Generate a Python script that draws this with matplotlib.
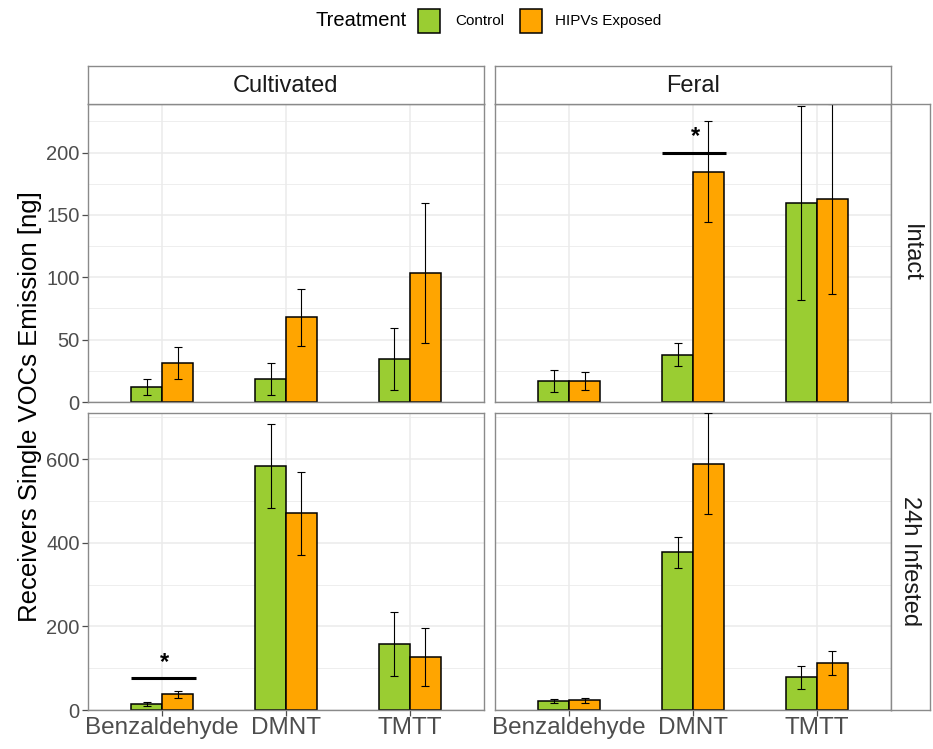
import matplotlib
matplotlib.use("Agg")
import matplotlib.pyplot as plt
import numpy as np
from matplotlib.patches import Rectangle

plt.rcParams['font.family'] = ['Liberation Sans', 'DejaVu Sans']

compounds = ["Benzaldehyde", "DMNT", "TMTT"]
origins = ["Cultivated", "Feral"]
conditions = ["Intact", "24h Infested"]
treatments = ["Control", "HIPVs Exposed"]
colors = ["#9ACD32", "#FFA500"]

# Intact
intact_cult_control_mean = [12.0, 18.5, 34.5]
intact_cult_control_se = [6.4, 12.8, 24.5]
intact_cult_hipv_mean = [31.5, 68.0, 103.3]
intact_cult_hipv_se = [12.7, 23.0, 56.0]
intact_feral_control_mean = [17.0, 38.0, 159.5]
intact_feral_control_se = [8.7, 9.1, 78.0]
intact_feral_hipv_mean = [17.0, 184.8, 163.0]
intact_feral_hipv_se = [7.0, 40.5, 76.0]
# 24h Infested
inf_cult_control_mean = [15.0, 583.0, 157.7]
inf_cult_control_se = [4.8, 101.0, 76.0]
inf_cult_hipv_mean = [38.0, 470.0, 126.6]
inf_cult_hipv_se = [8.3, 99.0, 69.0]
inf_feral_control_mean = [21.5, 377.0, 78.0]
inf_feral_control_se = [4.4, 37.0, 28.0]
inf_feral_hipv_mean = [23.0, 589.0, 112.5]
inf_feral_hipv_se = [6.0, 121.0, 29.5]

data = {
    ("Intact", "Cultivated"): [(intact_cult_control_mean, intact_cult_control_se),
                               (intact_cult_hipv_mean, intact_cult_hipv_se)],
    ("Intact", "Feral"): [(intact_feral_control_mean, intact_feral_control_se),
                          (intact_feral_hipv_mean, intact_feral_hipv_se)],
    ("24h Infested", "Cultivated"): [(inf_cult_control_mean, inf_cult_control_se),
                                     (inf_cult_hipv_mean, inf_cult_hipv_se)],
    ("24h Infested", "Feral"): [(inf_feral_control_mean, inf_feral_control_se),
                                (inf_feral_hipv_mean, inf_feral_hipv_se)],
}

row_ticks = {"Intact": [0, 50, 100, 150, 200], "24h Infested": [0, 200, 400, 600]}
row_minor = {"Intact": [25, 75, 125, 175, 225], "24h Infested": [100, 300, 500, 700]}

# significance markers: (condition, origin, compound, y)
sig_condition = ["Intact", "24h Infested"]
sig_origin = ["Feral", "Cultivated"]
sig_compound = ["DMNT", "Benzaldehyde"]
sig_y = [200, 77]

W, H = 933, 749
fig = plt.figure(figsize=(W / 100, H / 100), dpi=100)

def rect(x0, y0, x1, y1):
    return [x0 / W, 1 - y1 / H, (x1 - x0) / W, (y1 - y0) / H]

col_x = [(88, 484), (495, 891)]
row_y = [(104, 402), (413, 710)]
border_col = "#8a8a8a"
grid_col = "#EBEBEB"
tick_col = "#4D4D4D"

x = np.arange(len(compounds))
bw = 0.25

for ri, cond in enumerate(conditions):
    # row y-limit from the data (max of mean+se in the row)
    top = max(max(np.array(m) + np.array(s)) for o in origins for (m, s) in data[(cond, o)])
    for ci, org in enumerate(origins):
        x0, x1 = col_x[ci]
        y0, y1 = row_y[ri]
        ax = fig.add_axes(rect(x0, y0, x1, y1))
        ax.set_xlim(-0.6, len(compounds) - 0.4)
        ax.set_ylim(0, top)
        ax.set_axisbelow(True)
        for yv in row_ticks[cond]:
            ax.axhline(yv, color=grid_col, lw=1.1, zorder=0)
        for yv in row_minor[cond]:
            ax.axhline(yv, color=grid_col, lw=0.6, zorder=0)
        for xv in x:
            ax.axvline(xv, color=grid_col, lw=1.1, zorder=0)
        for ti, (m, s) in enumerate(data[(cond, org)]):
            off = (ti - 0.5) * bw
            ax.bar(x + off, m, width=bw, color=colors[ti], edgecolor="black",
                   linewidth=1.1, zorder=2)
            ax.errorbar(x + off, m, yerr=s, fmt="none", ecolor="black",
                        elinewidth=0.8, capsize=2.8, capthick=0.8, zorder=3)
        for sc, so, scmp, sy in zip(sig_condition, sig_origin, sig_compound, sig_y):
            if sc == cond and so == org:
                xc = compounds.index(scmp)
                ax.plot([xc - 0.25, xc + 0.27], [sy, sy], color="black", lw=2.2,
                        zorder=4, solid_capstyle="butt")
                ax.annotate("*", (xc + 0.02, sy), xytext=(0, 3), textcoords="offset points",
                            ha="center", va="bottom", fontsize=17, fontweight="bold",
                            zorder=5)
        for sp in ax.spines.values():
            sp.set_color(border_col)
            sp.set_linewidth(1.0)
        ax.set_yticks(row_ticks[cond])
        ax.set_xticks(x)
        ax.tick_params(axis="both", colors=tick_col, length=4, width=0.9)
        if ci == 0:
            ax.tick_params(axis="y", labelsize=14.5, labelcolor=tick_col, pad=2)
        else:
            ax.tick_params(axis="y", left=False, labelleft=False)
        if ri == len(conditions) - 1:
            ax.set_xticklabels(compounds)
            ax.tick_params(axis="x", labelsize=17.5, labelcolor=tick_col, pad=1)
        else:
            ax.tick_params(axis="x", bottom=False, labelbottom=False)

# column strips
for ci, org in enumerate(origins):
    x0, x1 = col_x[ci]
    sax = fig.add_axes(rect(x0, 66, x1, 104))
    sax.set_xticks([]); sax.set_yticks([])
    for sp in sax.spines.values():
        sp.set_color(border_col); sp.set_linewidth(1.0)
    sax.text(0.5, 0.48, org, ha="center", va="center", fontsize=17, color="#1A1A1A",
             transform=sax.transAxes)

# row strips
for ri, cond in enumerate(conditions):
    y0, y1 = row_y[ri]
    sax = fig.add_axes(rect(891, y0, 930, y1))
    sax.set_xticks([]); sax.set_yticks([])
    for sp in sax.spines.values():
        sp.set_color(border_col); sp.set_linewidth(1.0)
    sax.text(0.5, 0.5, cond, ha="center", va="center", fontsize=17, color="#1A1A1A",
             rotation=-90, transform=sax.transAxes)

# y label
fig.text(30 / W, 1 - 407 / H, "Receivers Single VOCs Emission [ng]", rotation=90,
         ha="center", va="center", fontsize=18.5, color="black")

# legend
fig.text(315 / W, 1 - 21 / H, "Treatment", ha="left", va="center", fontsize=14.5)
key_x = [418, 520]
lab_x = [455, 555]
for ti, tname in enumerate(treatments):
    fig.patches.append(Rectangle((key_x[ti] / W, 1 - 33 / H), 22 / W, 24 / H,
                                 transform=fig.transFigure, facecolor=colors[ti],
                                 edgecolor="black", linewidth=1.1))
    fig.text(lab_x[ti] / W, 1 - 21 / H, tname, ha="left", va="center", fontsize=11)

fig.savefig("out.png", dpi=100)
